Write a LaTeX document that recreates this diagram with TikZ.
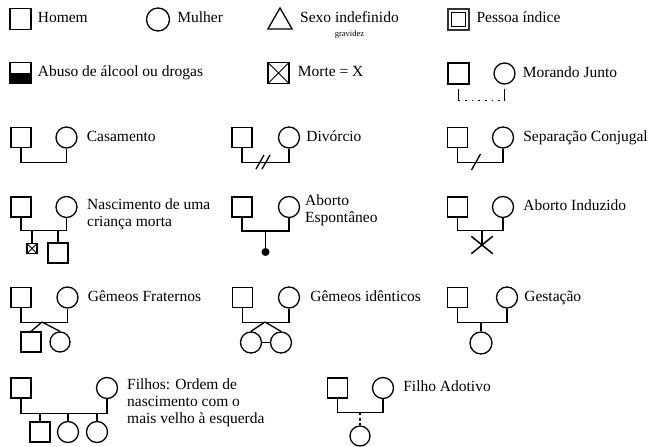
\documentclass[tikz,border=0pt]{standalone}
\usepackage{fontspec}
\setmainfont{Liberation Serif}
\usepackage{tikz}
\usetikzlibrary{shapes.geometric, shapes.misc, positioning}
\tikzset{
  % Simbolos
  homem/.style={rectangle, draw, line width=1.3pt, minimum size=20pt, inner sep=0pt},
  mulher/.style={circle, draw, line width=1.3pt, minimum size=21pt, inner sep=0pt},
  triangulo/.style={regular polygon, regular polygon sides=3, draw, line width=1.3pt, minimum size=28pt, inner sep=0pt},
  abuso/.style={homem, path picture={\fill (path picture bounding box.west) rectangle (path picture bounding box.south east);}},
  morte/.style={homem, path picture={\draw[line width=1pt] (path picture bounding box.north west) -- (path picture bounding box.south east) (path picture bounding box.south west) -- (path picture bounding box.north east);}},
  ponto/.style={circle, fill, minimum size=8pt, inner sep=0pt},
  cruz/.style={cross out, draw, line width=1.5pt, minimum width=20pt, minimum height=16pt, inner sep=0pt},
  % Linhas
  linha/.style={line width=1.3pt},
  pontilhado/.style={line width=1.6pt, dash pattern=on 1.6pt off 5pt},
  tracejado/.style={line width=1.3pt, dash pattern=on 3pt off 2.5pt},
  % Textos
  legenda/.style={font=\fontsize{15.5}{17}\selectfont, inner sep=0pt, text height=10pt, text depth=3pt},
  legendas/.style={font=\fontsize{15.5}{17}\selectfont, inner sep=0pt, align=left, anchor=north west}
}
\begin{document}
\begin{tikzpicture}[x=1pt, y=-1pt]
  \useasboundingbox (0,0) rectangle (649,447);

  % Linha 1: simbolos basicos
  \node[homem, minimum size=21pt] (h1) at (20.5,19) {};
  \node[legenda, right=6pt of h1] (t1) {Homem};
  \node[mulher, minimum size=23pt] (m2) at (158,19.5) {};
  \node[legenda, right=7pt of m2] (t2) {Mulher};
  \node[triangulo] (s3) at (280,22) {};
  \node[legenda, anchor=west] (t3) at (300,19) {Sexo indefinido};
  \node[font=\fontsize{8.5}{10}\selectfont, inner sep=0pt, below=5pt of t3] (t3b) {gravidez};
  \node[homem, line width=2.2pt, minimum size=21.5pt, draw=black!80] (p4) at (458.5,19.5) {};
  \node[homem, line width=1.3pt, minimum size=14.5pt] (p4i) at (p4) {};
  \node[legenda, right=6pt of p4] (t4) {Pessoa índice};

  % Linha 2
  \node[abuso, minimum size=21pt] (a5) at (20.5,73) {};
  \node[legenda, right=6pt of a5] (t5) {Abuso de álcool ou drogas};
  \node[morte, minimum size=21pt] (x6) at (278.5,73) {};
  \node[legenda, right=8pt of x6] (t6) {Morte = X};
  \node[homem, minimum size=21pt] (h7) at (458.5,73.5) {};
  \node[mulher, minimum size=21pt] (m7) at (504.5,73.5) {};
  \node[legenda, right=7pt of m7] (t7) {Morando Junto};
  \draw[linha] (h7.south) ++(0,4) -- ++(0,12) coordinate (j7a);
  \draw[linha] (m7.south) ++(0,4) -- ++(0,12) coordinate (j7b);
  \draw[pontilhado] (j7a) -- (j7b);

  % Linha 3: casais
  \node[homem] (h8) at (21,137.5) {};
  \node[mulher] (m8) at (66.5,137.5) {};
  \node[legenda, right=9pt of m8] (t8) {Casamento};
  \draw[linha] (h8.south) -- ++(0,14.5) -| (m8.south);

  \node[homem] (h9) at (242,137.5) {};
  \node[mulher] (m9) at (289,137.5) {};
  \node[legenda, right=6pt of m9] (t9) {Divórcio};
  \draw[linha] (h9.south) -- ++(0,14.5) -| (m9.south);
  \coordinate (k9) at (263,162);
  \draw[linha] (k9) ++(-7,7) -- ++(8,-14) ++(-2,14) -- ++(8,-14);

  \node[homem] (h10) at (457.5,137.5) {};
  \node[mulher] (m10) at (503,137.5) {};
  \node[legenda, right=9pt of m10] (t10) {Separação Conjugal};
  \draw[linha] (h10.south) -- ++(0,14.5) -| (m10.south);
  \coordinate (k10) at (476,162);
  \draw[linha] (k10) ++(-4.5,8) -- ++(9,-16);

  % Linha 4: perdas
  \node[homem] (h11) at (21,207) {};
  \node[mulher] (m11) at (66.5,207) {};
  \node[legendas] (t11) at (87,199) {Nascimento de uma\\criança morta};
  \draw[linha] (h11.south) -- ++(0,13) -| (m11.south);
  \coordinate (k11) at (44,230);
  \node[morte, minimum size=10pt] (c11a) at (32,248.5) {};
  \node[homem] (c11b) at (58,253) {};
  \draw[linha] (c11a.north) -- (c11a.north |- k11);
  \draw[linha] (c11b.north) -- (c11b.north |- k11);

  \node[homem] (h12) at (242,207) {};
  \node[mulher] (m12) at (289,207) {};
  \node[legendas] (t12) at (305,195) {Aborto\\Espontâneo};
  \draw[linha, line width=2pt] (h12.south) -- ++(0,13) -| (m12.south);
  \coordinate (k12) at (265.5,230);
  \node[ponto] (d12) at (265.5,252) {};
  \draw[linha] (k12) -- (d12);

  \node[homem] (h13) at (457.5,207) {};
  \node[mulher] (m13) at (503,207) {};
  \node[legenda, right=9pt of m13] (t13) {Aborto Induzido};
  \draw[linha] (h13.south) -- ++(0,13) -| (m13.south);
  \coordinate (k13) at (482,230);
  \node[cruz] (x13) at (482,245) {};
  \draw[linha] (k13) -- (x13.center);

  % Linha 5: gemeos e gestacao
  \node[homem] (h14) at (21,297.5) {};
  \node[mulher] (m14) at (67.5,297.5) {};
  \node[legenda, right=9pt of m14] (t14) {Gêmeos Fraternos};
  \draw[linha] (h14.south) -- ++(0,14.5) -| (m14.south);
  \coordinate (k14) at (42,322);
  \node[homem] (c14a) at (31,342) {};
  \node[mulher, minimum size=20pt] (c14b) at (60,342) {};
  \draw[linha] (k14) -- (c14a.north);
  \draw[linha] (k14) -- (c14b.north);

  \node[homem] (h15) at (242.5,297.5) {};
  \node[mulher] (m15) at (289,297.5) {};
  \node[legenda, right=10pt of m15] (t15) {Gêmeos idênticos};
  \draw[linha] (h15.south) -- ++(0,14.5) -| (m15.south);
  \coordinate (k15) at (265,322);
  \node[mulher] (c15a) at (251,342.5) {};
  \node[mulher] (c15b) at (281,342.5) {};
  \draw[linha] (k15) -- (c15a.north);
  \draw[linha] (k15) -- (c15b.north);
  \draw[linha] (c15a.east) -- (c15b.west);

  \node[homem] (h16) at (457.5,297.5) {};
  \node[mulher] (m16) at (507,297.5) {};
  \node[legenda, right=6pt of m16] (t16) {Gestação};
  \draw[linha] (h16.south) -- ++(0,14.5) -| (m16.south);
  \coordinate (k16) at (481,322);
  \node[mulher, minimum size=22pt] (c16) at (481,343) {};
  \draw[linha] (k16) -- (c16.north);

  % Linha 6: filhos
  \node[homem] (h17) at (21,388) {};
  \node[mulher] (m17) at (107,388) {};
  \node[legendas] (t17) at (127,379) {Filhos: Ordem de\\nascimento com o\\mais velho à esquerda};
  \draw[linha] (h17.south) -- ++(0,15) -| (m17.south);
  \coordinate (k17) at (60,413);
  \node[homem] (c17a) at (40,432) {};
  \node[mulher] (c17b) at (68,432) {};
  \node[mulher] (c17c) at (97,432) {};
  \foreach \c in {c17a,c17b,c17c}
    \draw[linha] (\c.north) -- (\c.north |- k17);

  \node[homem] (h18) at (337.5,388) {};
  \node[mulher] (m18) at (383,388) {};
  \node[legenda, right=9pt of m18] (t18) {Filho Adotivo};
  \draw[linha] (h18.south) -- ++(0,14) -| (m18.south);
  \coordinate (k18) at (360,412);
  \node[mulher, minimum size=20pt] (c18) at (360,436) {};
  \draw[tracejado] (k18) -- (c18.north);
\end{tikzpicture}
\end{document}
